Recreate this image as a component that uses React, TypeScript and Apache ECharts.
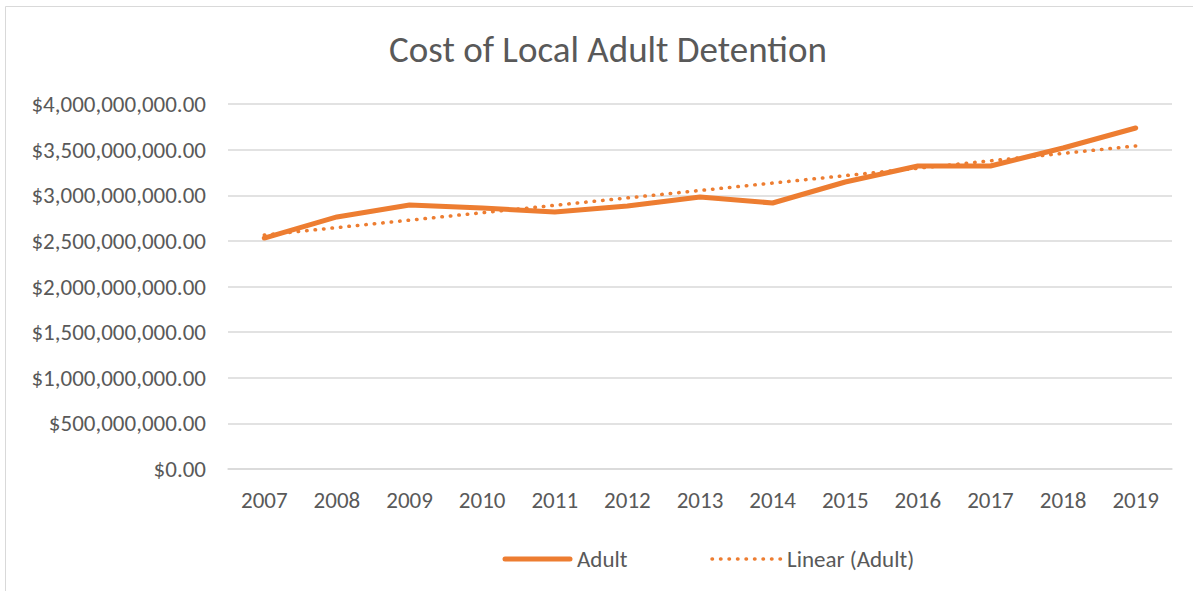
import React, { useEffect, useRef } from "react";
import * as echarts from "echarts";

const years = ["2007", "2008", "2009", "2010", "2011", "2012", "2013", "2014", "2015", "2016", "2017", "2018", "2019"];
const adult = [
  2531000000, 2762000000, 2893000000, 2860000000, 2816000000, 2882000000, 2981000000,
  2915000000, 3145000000, 3321000000, 3321000000, 3518000000, 3737000000,
];
const seriesNames = ["Adult", "Linear (Adult)"];
const chartTitle = "Cost of Local Adult Detention";

// Excel-style linear trendline (least squares) of the Adult series
function linearTrend(values: number[]): number[] {
  const n = values.length;
  const xs = values.map((_, i) => i + 1);
  const mx = xs.reduce((a, b) => a + b, 0) / n;
  const my = values.reduce((a, b) => a + b, 0) / n;
  let sxy = 0;
  let sxx = 0;
  for (let i = 0; i < n; i++) {
    sxy += (xs[i] - mx) * (values[i] - my);
    sxx += (xs[i] - mx) * (xs[i] - mx);
  }
  const slope = sxy / sxx;
  const intercept = my - slope * mx;
  return xs.map((x) => intercept + slope * x);
}

const FONT = "Carlito, 'Open Sans', 'Noto Sans', sans-serif";
const TEXT = "#595959";
const ORANGE = "#ED7D31";
const DOTS: number[] = [0.5, 8];

export default function App() {
  const ref = useRef<HTMLDivElement>(null);
  useEffect(() => {
    if (!ref.current) return;
    const chart = echarts.init(ref.current, undefined, { renderer: "svg" });
    const trend = linearTrend(adult);
    const legendY = 559;
    chart.setOption({
      animation: false,
      backgroundColor: "#ffffff",
      title: {
        text: chartTitle,
        left: 603,
        textAlign: "center",
        top: 26,
        textStyle: { fontFamily: FONT, fontSize: 37, fontWeight: 300, color: TEXT },
      },
      graphic: [
        {
          type: "rect",
          shape: { x: 5.5, y: 6.5, width: 1400, height: 800 },
          style: { fill: "none", stroke: "#d9d9d9", lineWidth: 1 },
          silent: true,
        },
        {
          type: "line",
          shape: { x1: 505, y1: legendY, x2: 570, y2: legendY },
          style: { stroke: ORANGE, lineWidth: 5, lineCap: "round" },
          silent: true,
        },
        {
          type: "text",
          x: 577,
          y: legendY,
          style: { text: seriesNames[0], fill: TEXT, font: `23px ${FONT}`, verticalAlign: "middle" },
          silent: true,
        },
        {
          type: "line",
          shape: { x1: 712, y1: legendY, x2: 782, y2: legendY },
          style: { stroke: ORANGE, lineWidth: 3.5, lineCap: "round", lineDash: DOTS },
          silent: true,
        },
        {
          type: "text",
          x: 787,
          y: legendY,
          style: { text: seriesNames[1], fill: TEXT, font: `23px ${FONT}`, verticalAlign: "middle" },
          silent: true,
        },
      ],
      grid: { left: 228, right: 21, top: 104, bottom: 122, containLabel: false },
      xAxis: {
        type: "category",
        data: years,
        boundaryGap: true,
        axisLine: { show: true, lineStyle: { color: "#d9d9d9", width: 1.5 } },
        axisTick: { show: false },
        axisLabel: { color: TEXT, fontFamily: FONT, fontSize: 23, margin: 19 },
      },
      yAxis: {
        type: "value",
        min: 0,
        max: 4000000000,
        interval: 500000000,
        axisLine: { show: false },
        axisTick: { show: false },
        splitLine: { lineStyle: { color: "#d9d9d9", width: 1.5 } },
        axisLabel: {
          color: TEXT,
          fontFamily: FONT,
          fontSize: 23,
          margin: 22,
          formatter: (v: number) =>
            "$" + v.toLocaleString("en-US", { minimumFractionDigits: 2, maximumFractionDigits: 2 }),
        },
      },
      series: [
        {
          name: seriesNames[0],
          type: "line",
          data: adult,
          symbol: "none",
          showSymbol: false,
          lineStyle: { color: ORANGE, width: 5, cap: "round", join: "round" },
          itemStyle: { color: ORANGE },
          z: 2,
        },
        {
          name: seriesNames[1],
          type: "line",
          data: trend,
          symbol: "none",
          showSymbol: false,
          lineStyle: { color: ORANGE, width: 3.5, type: DOTS, cap: "round" },
          itemStyle: { color: ORANGE },
          z: 3,
        },
      ],
    });
    return () => chart.dispose();
  }, []);
  return <div ref={ref} style={{ position: "fixed", left: 0, top: 0, width: 1193, height: 591 }} />;
}
